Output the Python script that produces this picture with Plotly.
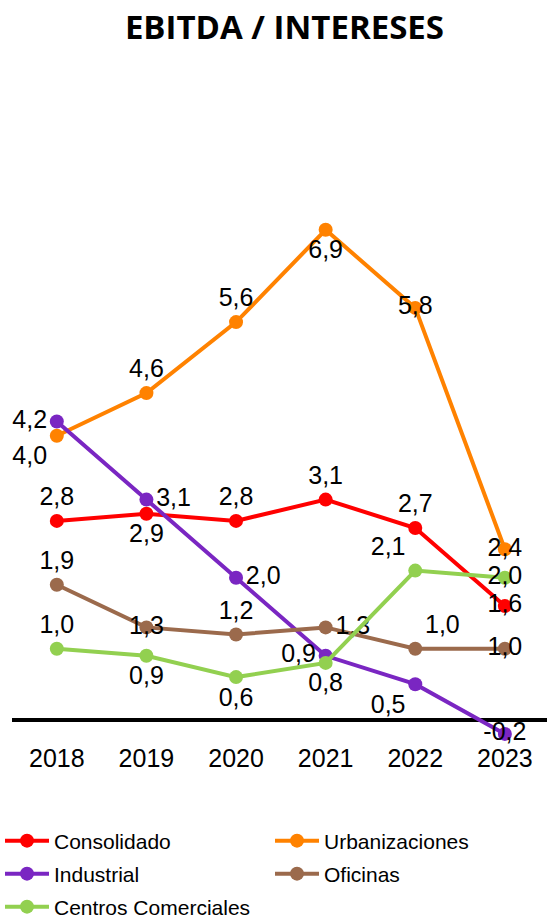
import plotly.graph_objects as go

years = ["2018", "2019", "2020", "2021", "2022", "2023"]

consolidado = [2.8, 2.9, 2.8, 3.1, 2.7, 1.6]
urbanizaciones = [4.0, 4.6, 5.6, 6.9, 5.8, 2.4]
industrial = [4.2, 3.1, 2.0, 0.9, 0.5, -0.2]
oficinas = [1.9, 1.3, 1.2, 1.3, 1.0, 1.0]
centros = [1.0, 0.9, 0.6, 0.8, 2.1, 2.0]

series = [
    ("Consolidado", consolidado, "#FF0000",
     ["top center", "bottom center", "top center", "top center", "top center", "middle center"]),
    ("Urbanizaciones", urbanizaciones, "#FF8200",
     ["bottom left", "top center", "top center", "bottom center", "middle center", "middle center"]),
    ("Industrial", industrial, "#7A26C2",
     ["middle left", "middle right", "middle right", "middle left", "bottom left", "middle center"]),
    ("Oficinas", oficinas, "#9B6A4C",
     ["top center", "middle center", "top center", "middle right", "top right", "middle center"]),
    ("Centros Comerciales", centros, "#92D050",
     ["top center", "bottom center", "bottom center", "bottom center", "top left", "middle center"]),
]

# legend slot for each series: (column pixel x, row pixel y)
legend_slots = [(0, 841), (270, 841), (0, 874), (270, 874), (0, 907)]

fig = go.Figure()
layout_legends = {}
for i, ((name, vals, color, pos), (lx, ly)) in enumerate(zip(series, legend_slots)):
    lname = "legend" if i == 0 else f"legend{i + 1}"
    fig.add_trace(go.Scatter(
        x=years, y=vals, name=name, mode="lines+markers+text",
        line=dict(color=color, width=4),
        marker=dict(color=color, size=14),
        text=[f"{v:.1f}".replace(".", ",") for v in vals],
        textposition=pos,
        textfont=dict(family="Liberation Sans, Arial", size=25, color="#000000"),
        cliponaxis=False,
        legend=lname,
    ))
    layout_legends[lname] = dict(
        orientation="h", xref="container", yref="container",
        x=lx / 547, y=1 - ly / 920, xanchor="left", yanchor="middle",
        font=dict(family="Liberation Sans, Arial", size=21, color="#000000"),
        itemwidth=44, bgcolor="rgba(0,0,0,0)",
    )

fig.update_layout(
    width=547, height=920,
    margin=dict(l=12, r=0, t=102, b=179, autoexpand=False),
    paper_bgcolor="white", plot_bgcolor="white",
    separators=",.",
    title=dict(text="<b>EBITDA / INTERESES</b>", x=0.52, xanchor="center",
               y=1 - 27 / 920, yanchor="middle",
               font=dict(family="Open Sans", size=33, color="#000000")),
    xaxis=dict(type="category", range=[-0.5, 5.47], showgrid=False, showline=False,
               ticks="", tickfont=dict(family="Liberation Sans, Arial", size=25, color="#000000")),
    yaxis=dict(range=[-0.3, 8.7], showgrid=False, showticklabels=False, showline=False,
               zeroline=True, zerolinecolor="#000000", zerolinewidth=4),
    showlegend=True,
    **layout_legends,
)

fig.write_html("out.html", config={"displayModeBar": False},
               post_script="document.body.style.margin='0px';")
